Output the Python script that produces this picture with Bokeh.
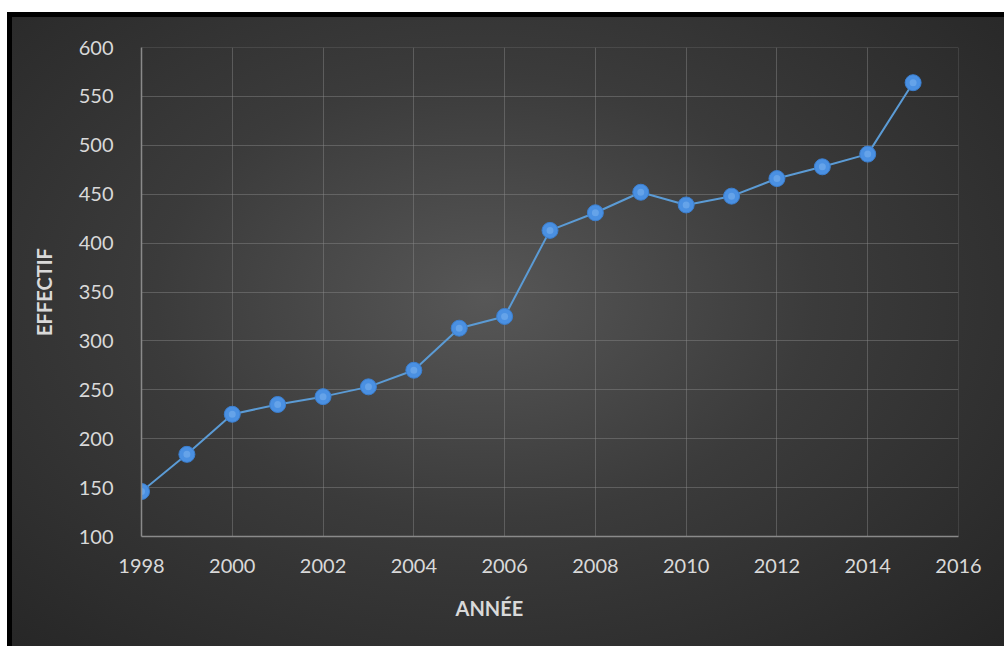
from bokeh.plotting import figure
from bokeh.models import Range1d, FixedTicker, Title, LinearAxis
from bokeh.embed import file_html
from bokeh.resources import INLINE

years = [1998, 1999, 2000, 2001, 2002, 2003, 2004, 2005, 2006, 2007, 2008,
         2009, 2010, 2011, 2012, 2013, 2014, 2015]
effectif = [146, 184, 225, 235, 243, 253, 270, 313, 325, 413, 431,
            452, 439, 448, 466, 478, 491, 564]
x_ticks = [1998, 2000, 2002, 2004, 2006, 2008, 2010, 2012, 2014, 2016]
y_ticks = [100, 150, 200, 250, 300, 350, 400, 450, 500, 550, 600]

FONT = "Lato"
TXT = "#d9d9d9"

p = figure(width=997, height=634, output_backend="svg", toolbar_location=None,
           x_range=Range1d(1998, 2016), y_range=Range1d(100, 600),
           min_border_left=134, min_border_right=46, min_border_top=35,
           min_border_bottom=110,
           styles={"background": "radial-gradient(ellipse at 48% 45%, #575757 0%, #3b3b3b 45%, #252525 100%)",
                   "box-shadow": "inset 5px 5px 0 #000000",
                   "margin": "12px 0px 0px 7px"})
p.background_fill_alpha = 0
p.border_fill_alpha = 0
p.outline_line_color = None

p.xaxis.ticker = FixedTicker(ticks=x_ticks)
p.yaxis.ticker = FixedTicker(ticks=y_ticks)
for ax in (p.xaxis, p.yaxis):
    ax.major_tick_line_color = None
    ax.minor_tick_line_color = None
    ax.axis_line_color = "#8a8a8a"
    ax.axis_line_width = 1.5
    ax.major_label_text_color = TXT
    ax.major_label_text_font = FONT
    ax.major_label_text_font_size = "20px"
p.xaxis.major_label_standoff = 16
p.yaxis.major_label_standoff = 22

p.yaxis.axis_label = "EFFECTIF"
p.yaxis.axis_label_text_font = FONT
p.yaxis.axis_label_text_font_style = "bold"
p.yaxis.axis_label_text_font_size = "20px"
p.yaxis.axis_label_text_color = TXT
p.yaxis.axis_label_standoff = 20

p.grid.grid_line_color = "#8a8a8a"
p.grid.grid_line_alpha = 0.45
p.grid.grid_line_width = 1

# right/top gridlines at the extremes
p.line(x=[2016, 2016], y=[100, 600], line_color="#8a8a8a", line_alpha=0.45, line_width=1)
p.line(x=[1998, 2016], y=[600, 600], line_color="#8a8a8a", line_alpha=0.45, line_width=1)

p.line(x=years, y=effectif, line_color="#5b9bd5", line_width=2)
p.scatter(x=years, y=effectif, size=16, marker="circle",
          fill_color="#4a90e2", line_color="#3b7fd0", line_width=1)
p.scatter(x=years, y=effectif, size=7, marker="circle",
          fill_color="#7fb6f0", fill_alpha=0.5, line_color=None)

# invisible spacer axis (tick outside the range) to push the x title lower
spacer = LinearAxis(ticker=FixedTicker(ticks=[2030]), axis_line_color=None,
                    major_tick_line_color=None, minor_tick_line_color=None,
                    major_tick_out=19, major_tick_in=0, minor_tick_out=0,
                    major_label_text_font_size="1px", major_label_standoff=0)
p.add_layout(spacer, "below")

xt = Title(text="ANNÉE", align="left", offset=314, standoff=36,
           text_font=FONT, text_font_style="bold", text_font_size="20px",
           text_color=TXT)
p.add_layout(xt, "below")

open("out.html", "w").write(file_html(p, INLINE))
